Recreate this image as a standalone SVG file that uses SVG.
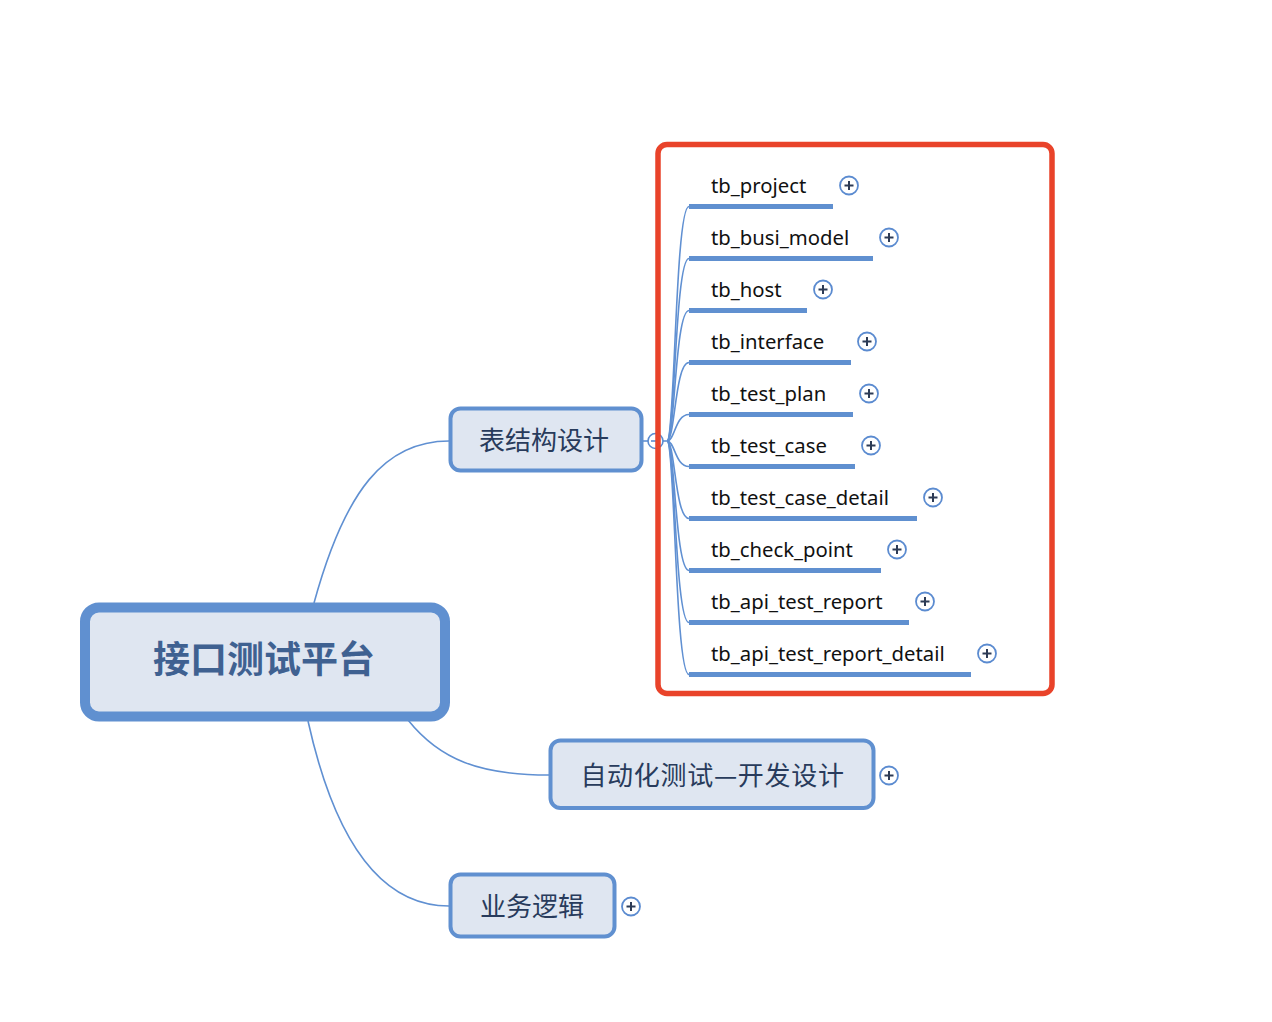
<svg xmlns="http://www.w3.org/2000/svg" width="1272" height="1022" viewBox="0 0 1272 1022">
<style>
.conn{fill:none;stroke:#6090d2;stroke-width:1.6}
.node{fill:#dfe6f1;stroke:#6090d0}
.cjk{font-family:"Noto Sans CJK SC","Noto Sans",sans-serif;text-anchor:middle}
.lbl{font-family:"Noto Sans","Liberation Sans",sans-serif;font-size:20.3px;fill:#111}
.ul{stroke:#6090d0;stroke-width:5}
.pc{fill:#fff;stroke:#5b8bd0;stroke-width:1.8}
.pl{stroke:#2d3b55;stroke-width:2}
</style>
<defs>
<g id="plus"><circle class="pc" cx="0" cy="0" r="9"/><path class="pl" d="M-4.5 0H4.5M0 -4.5V4.5"/></g>
</defs>
<rect width="1272" height="1022" fill="#fff"/>
<g id="connectors">
<path class="conn" d="M314 603 C345 490 385 441 449 441"/>
<path class="conn" d="M408 720 C440 760 480 775 549 775"/>
<path class="conn" d="M308 721 C330 820 370 906 449 906"/>
<path class="conn" d="M642 441 H667"/>
<path class="conn" d="M667 441 C675 441 675 206.5 689 206.5"/>
<path class="conn" d="M667 441 C675 441 675 258.5 689 258.5"/>
<path class="conn" d="M667 441 C675 441 675 310.5 689 310.5"/>
<path class="conn" d="M667 441 C675 441 675 362.5 689 362.5"/>
<path class="conn" d="M667 441 C675 441 675 414.5 689 414.5"/>
<path class="conn" d="M667 441 C675 441 675 466.5 689 466.5"/>
<path class="conn" d="M667 441 C675 441 675 518.5 689 518.5"/>
<path class="conn" d="M667 441 C675 441 675 570.5 689 570.5"/>
<path class="conn" d="M667 441 C675 441 675 622.5 689 622.5"/>
<path class="conn" d="M667 441 C675 441 675 674.5 689 674.5"/>
</g>
<g id="root">
<rect class="node" x="85" y="607.5" width="360" height="109" rx="14" stroke-width="10"/>
<text class="cjk" x="264" y="673" font-size="37" font-weight="700" fill="#3f6191">接口测试平台</text>
</g>
<g id="n-table">
<rect class="node" x="450.5" y="408.5" width="191" height="62" rx="10" stroke-width="4"/>
<text class="cjk" x="544" y="449.5" font-size="26" fill="#283b5c">表结构设计</text>
<circle cx="655.5" cy="441" r="7.5" fill="#fff" stroke="#5b8bd0" stroke-width="1.6"/>
<path d="M651 441H660" stroke="#5b8bd0" stroke-width="1.6"/>
</g>
<g id="n-auto">
<rect class="node" x="550.5" y="740.5" width="323" height="67.5" rx="10" stroke-width="4"/>
<text class="cjk" x="712.5" y="784.5" font-size="26" letter-spacing="0.7" fill="#283b5c">自动化测试—开发设计</text>
<use href="#plus" x="889" y="775.5"/>
</g>
<g id="n-biz">
<rect class="node" x="450.5" y="874.5" width="164" height="62" rx="10" stroke-width="4"/>
<text class="cjk" x="532" y="915.5" font-size="26" fill="#283b5c">业务逻辑</text>
<use href="#plus" x="631" y="906.5"/>
</g>
<g id="c1"><text class="lbl" x="711" y="193">tb_project</text><line class="ul" x1="689" y1="206.5" x2="833" y2="206.5"/><use href="#plus" x="849" y="185.5"/></g>
<g id="c2"><text class="lbl" x="711" y="245">tb_busi_model</text><line class="ul" x1="689" y1="258.5" x2="873" y2="258.5"/><use href="#plus" x="889" y="237.5"/></g>
<g id="c3"><text class="lbl" x="711" y="297">tb_host</text><line class="ul" x1="689" y1="310.5" x2="807" y2="310.5"/><use href="#plus" x="823" y="289.5"/></g>
<g id="c4"><text class="lbl" x="711" y="349">tb_interface</text><line class="ul" x1="689" y1="362.5" x2="851" y2="362.5"/><use href="#plus" x="867" y="341.5"/></g>
<g id="c5"><text class="lbl" x="711" y="401">tb_test_plan</text><line class="ul" x1="689" y1="414.5" x2="853" y2="414.5"/><use href="#plus" x="869" y="393.5"/></g>
<g id="c6"><text class="lbl" x="711" y="453">tb_test_case</text><line class="ul" x1="689" y1="466.5" x2="855" y2="466.5"/><use href="#plus" x="871" y="445.5"/></g>
<g id="c7"><text class="lbl" x="711" y="505">tb_test_case_detail</text><line class="ul" x1="689" y1="518.5" x2="917" y2="518.5"/><use href="#plus" x="933" y="497.5"/></g>
<g id="c8"><text class="lbl" x="711" y="557">tb_check_point</text><line class="ul" x1="689" y1="570.5" x2="881" y2="570.5"/><use href="#plus" x="897" y="549.5"/></g>
<g id="c9"><text class="lbl" x="711" y="609">tb_api_test_report</text><line class="ul" x1="689" y1="622.5" x2="909" y2="622.5"/><use href="#plus" x="925" y="601.5"/></g>
<g id="c10"><text class="lbl" x="711" y="661">tb_api_test_report_detail</text><line class="ul" x1="689" y1="674.5" x2="971" y2="674.5"/><use href="#plus" x="987" y="653.5"/></g>
<g id="highlight">
<rect x="658" y="144.5" width="394" height="549" rx="9" fill="none" stroke="#e9432a" stroke-width="5.5"/>
</g>
</svg>
